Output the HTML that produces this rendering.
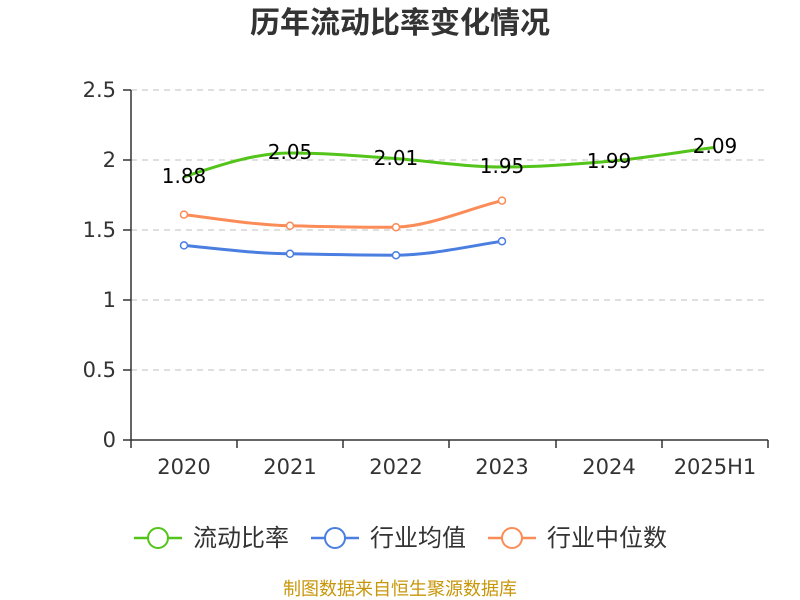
<!DOCTYPE html>
<html><head><meta charset="utf-8"><style>
body{margin:0;background:#fff;}
svg{display:block;font-family:"DejaVu Sans","Noto Sans CJK SC",sans-serif;}
</style></head><body>
<svg width="800" height="600" viewBox="0 0 800 600">
<text x="400" y="33" text-anchor="middle" font-size="30" font-weight="bold" fill="#333" font-family="'Noto Sans CJK SC',sans-serif">历年流动比率变化情况</text>
<g stroke="#ccc" stroke-dasharray="6,5" stroke-width="1.2">
<line x1="131" y1="90" x2="768" y2="90"/>
<line x1="131" y1="160" x2="768" y2="160"/>
<line x1="131" y1="230" x2="768" y2="230"/>
<line x1="131" y1="300" x2="768" y2="300"/>
<line x1="131" y1="370" x2="768" y2="370"/>
</g>
<g stroke="#333" stroke-width="1.5">
<line x1="131" y1="90" x2="131" y2="440"/>
<line x1="131" y1="440" x2="768" y2="440"/>
<line x1="123" y1="90" x2="131" y2="90"/><line x1="123" y1="160" x2="131" y2="160"/><line x1="123" y1="230" x2="131" y2="230"/><line x1="123" y1="300" x2="131" y2="300"/><line x1="123" y1="370" x2="131" y2="370"/><line x1="123" y1="440" x2="131" y2="440"/>
<line x1="131" y1="440" x2="131" y2="448"/><line x1="237" y1="440" x2="237" y2="448"/><line x1="343" y1="440" x2="343" y2="448"/><line x1="449" y1="440" x2="449" y2="448"/><line x1="556" y1="440" x2="556" y2="448"/><line x1="662" y1="440" x2="662" y2="448"/><line x1="768" y1="440" x2="768" y2="448"/>
</g>
<g font-size="21" fill="#333" text-anchor="end">
<text x="116" y="97">2.5</text><text x="116" y="167">2</text><text x="116" y="237">1.5</text><text x="116" y="307">1</text><text x="116" y="377">0.5</text><text x="116" y="447">0</text>
</g>
<g font-size="21" fill="#333" text-anchor="middle">
<text x="184" y="474">2020</text><text x="290" y="474">2021</text><text x="396" y="474">2022</text><text x="502" y="474">2023</text><text x="609" y="474">2024</text><text x="715" y="474">2025H1</text>
</g>
<path d="M184,176.8 C220,165 255,153 290,153 C325,153 360,156 396,158.6 C430,161 465,167 502,167 C540,167 575,164 609,161.4 C645,158 680,152 715,147.4" fill="none" stroke="#52c41a" stroke-width="3"/>
<path d="M184,245.4 C220,249 255,253.5 290,253.8 C325,254.5 360,255.2 396,255.2 C430,255 465,247 502,241.2" fill="none" stroke="#4a7ee0" stroke-width="3"/>
<path d="M184,214.6 C220,219 255,225 290,225.8 C325,226.5 360,227.5 396,227.2 C430,226 465,210 502,200.6" fill="none" stroke="#fb8c58" stroke-width="3"/>
<g fill="#fff" stroke="#4a7ee0" stroke-width="1.5">
<circle cx="184" cy="245.4" r="3.5"/><circle cx="290" cy="253.8" r="3.5"/><circle cx="396" cy="255.2" r="3.5"/><circle cx="502" cy="241.2" r="3.5"/>
</g>
<g fill="#fff" stroke="#fb8c58" stroke-width="1.5">
<circle cx="184" cy="214.6" r="3.5"/><circle cx="290" cy="225.8" r="3.5"/><circle cx="396" cy="227.2" r="3.5"/><circle cx="502" cy="200.6" r="3.5"/>
</g>
<g font-size="20" fill="#000" text-anchor="middle">
<text x="184" y="183">1.88</text><text x="290" y="159">2.05</text><text x="396" y="165">2.01</text><text x="502" y="173">1.95</text><text x="609" y="168">1.99</text><text x="715" y="153">2.09</text>
</g>
<g font-size="24" fill="#333" font-family="'Noto Sans CJK SC',sans-serif">
<line x1="134" y1="538" x2="182" y2="538" stroke="#52c41a" stroke-width="2.5"/><circle cx="158" cy="538" r="10" fill="#fff" stroke="#52c41a" stroke-width="2"/>
<text x="193" y="546">流动比率</text>
<line x1="311" y1="538" x2="359" y2="538" stroke="#4a7ee0" stroke-width="2.5"/><circle cx="335" cy="538" r="10" fill="#fff" stroke="#4a7ee0" stroke-width="2"/>
<text x="370" y="546">行业均值</text>
<line x1="488" y1="538" x2="536" y2="538" stroke="#fb8c58" stroke-width="2.5"/><circle cx="512" cy="538" r="10" fill="#fff" stroke="#fb8c58" stroke-width="2"/>
<text x="547" y="546">行业中位数</text>
</g>
<text x="400" y="595" text-anchor="middle" font-size="18" fill="#c8960a" font-family="'Noto Sans CJK SC',sans-serif">制图数据来自恒生聚源数据库</text>
</svg>
</body></html>
